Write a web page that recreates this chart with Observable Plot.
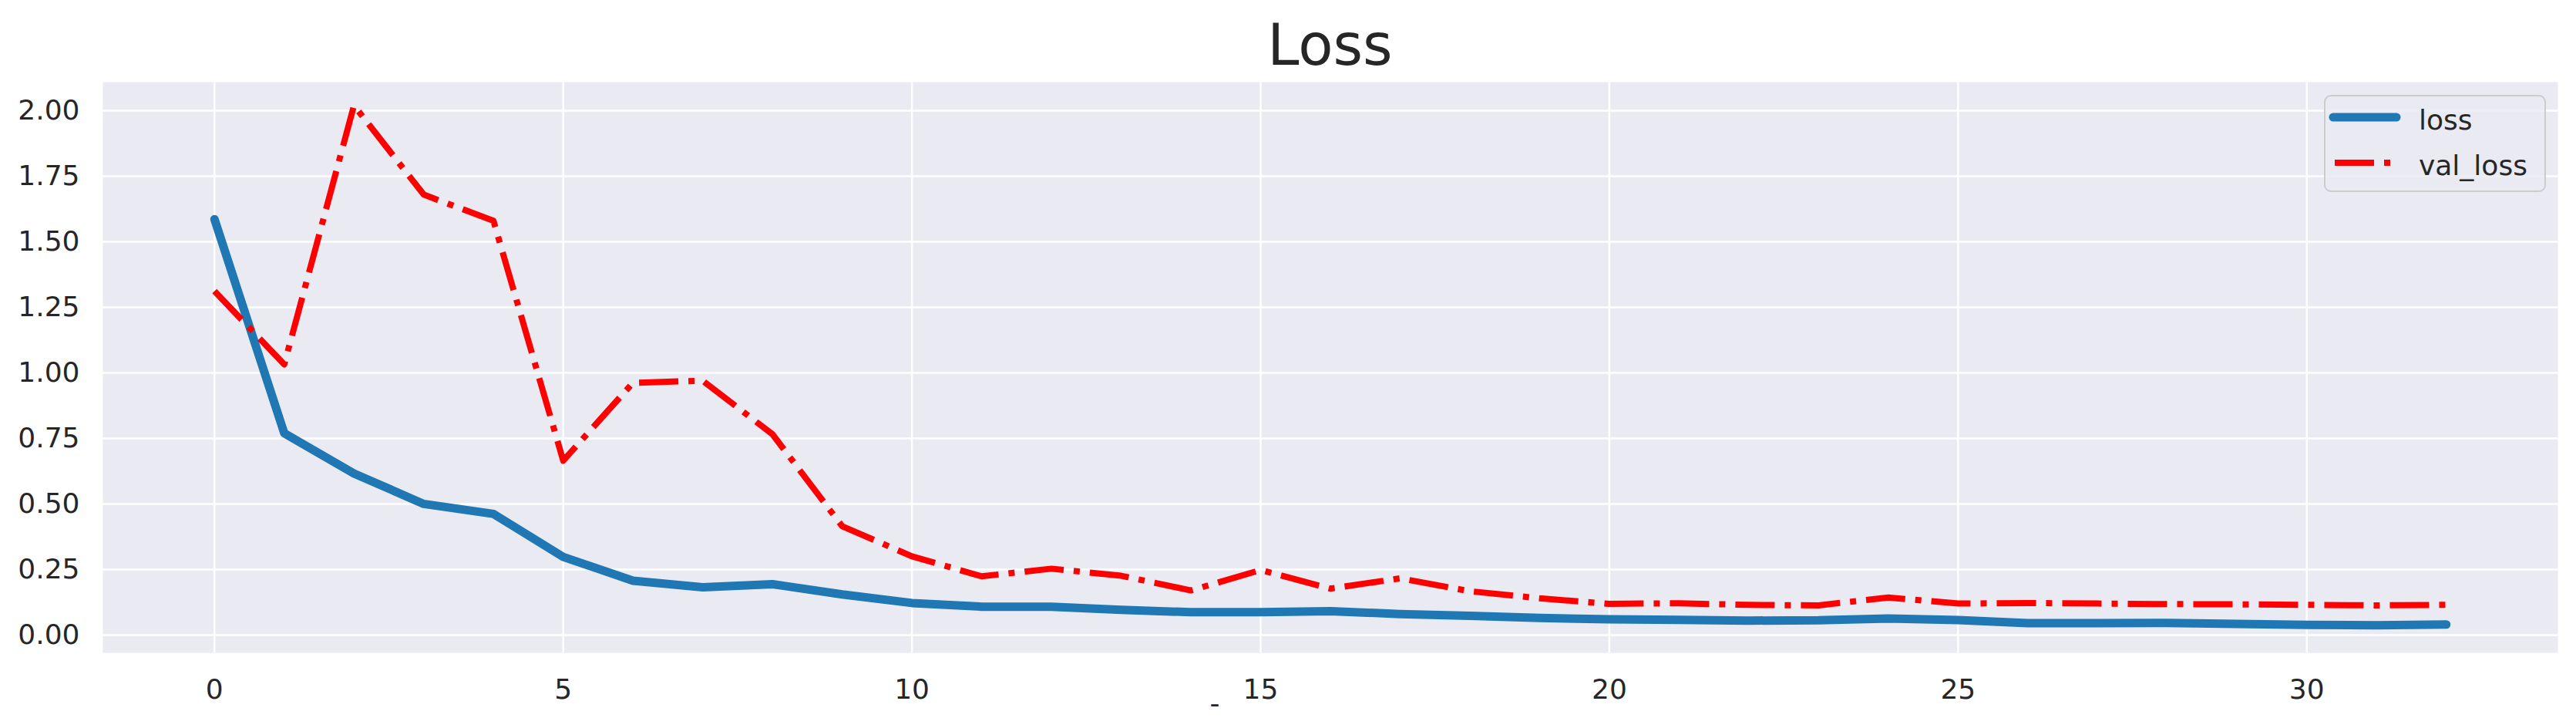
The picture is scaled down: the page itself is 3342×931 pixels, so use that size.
<!DOCTYPE html>
<html>
<head>
<meta charset="utf-8">
<script src="https://cdn.jsdelivr.net/npm/d3@7"></script>
<script src="https://cdn.jsdelivr.net/npm/@observablehq/plot@0.6"></script>
<style>
  html, body { margin: 0; padding: 0; background: #ffffff; }
  body { width: 3342px; height: 931px; overflow: hidden; position: relative; font-family: "DejaVu Sans", sans-serif; color: #262626; }
  #title { box-sizing: border-box; height: 100px; padding: 21px 24px 0 133px; line-height: 74px; font-size: 74px; text-align: center; color: #262626; }
  #legend { position: absolute; left: 3015px; top: 123px; width: 288px; height: 126px; box-sizing: border-box;
            background: rgba(234,234,242,0.85); border: 2.5px solid #cccccc; border-radius: 9px; }
  #legend svg { position: absolute; left: -2.5px; top: -2.5px; overflow: visible; }
</style>
</head>
<body>
<div id="title">Loss</div>
<div id="chart"></div>
<div id="legend"></div>
<script>
// ---- data ----
const epochs = [0, 1, 2, 3, 4, 5, 6, 7, 8, 9, 10, 11, 12, 13, 14, 15, 16, 17, 18, 19, 20, 21, 22, 23, 24, 25, 26, 27, 28, 29, 30, 31, 32];
const loss = [1.586, 0.770, 0.616, 0.500, 0.462, 0.298, 0.207, 0.182, 0.194, 0.155, 0.122, 0.108, 0.108, 0.096, 0.087, 0.087, 0.091, 0.080, 0.073, 0.065, 0.060, 0.058, 0.055, 0.056, 0.063, 0.057, 0.045, 0.045, 0.046, 0.042, 0.039, 0.037, 0.040];
const valLoss = [1.312, 1.032, 2.020, 1.680, 1.580, 0.665, 0.962, 0.970, 0.766, 0.415, 0.300, 0.224, 0.253, 0.226, 0.170, 0.248, 0.177, 0.216, 0.167, 0.140, 0.119, 0.121, 0.115, 0.113, 0.143, 0.120, 0.122, 0.120, 0.118, 0.117, 0.115, 0.113, 0.115];
const xTicks = [0, 5, 10, 15, 20, 25, 30];
const yTicks = [0, 0.25, 0.5, 0.75, 1.0, 1.25, 1.5, 1.75, 2.0];
const seriesNames = ["loss", "val_loss"];
const xLabel = "-";

const rows = epochs.map((e, i) => ({epoch: e, loss: loss[i], val: valLoss[i]}));

const chart = Plot.plot({
  width: 3342,
  height: 831,
  marginTop: 6,
  marginBottom: 85,
  marginLeft: 133,
  marginRight: 24,
  style: {background: "transparent", fontFamily: "DejaVu Sans, sans-serif", fontSize: "36px", color: "#262626", overflow: "visible"},
  x: {domain: [-1.6, 33.6]},
  y: {domain: [-0.068, 2.109]},
  marks: [
    Plot.frame({fill: "#eaeaf2", stroke: null}),
    Plot.gridX(xTicks, {stroke: "#ffffff", strokeOpacity: 1, strokeWidth: 2.5}),
    Plot.gridY(yTicks, {stroke: "#ffffff", strokeOpacity: 1, strokeWidth: 2.5}),
    Plot.axisX(xTicks, {tickSize: 0, tickPadding: 34, fontSize: 36, label: null}),
    Plot.axisY(yTicks, {tickSize: 0, tickPadding: 30, fontSize: 36, tickFormat: d3.format(".2f"), label: null}),
    Plot.text([xLabel], {text: d => d, frameAnchor: "bottom", dx: -150, dy: 66, fontSize: 36, lineAnchor: "middle", fill: "#262626"}),
    Plot.line(rows, {x: "epoch", y: "loss", stroke: "#1f77b4", strokeWidth: 11, strokeLinejoin: "round", strokeLinecap: "round"}),
    Plot.line(rows, {x: "epoch", y: "val", stroke: "#ff0000", strokeWidth: 8, strokeDasharray: "51,13,8,13", strokeLinejoin: "round", strokeLinecap: "butt"})
  ]
});
document.getElementById("chart").appendChild(chart);

// ---- legend ----
const lg = d3.select("#legend").append("svg").attr("width", 288).attr("height", 126);
lg.append("line").attr("x1", 12).attr("x2", 94).attr("y1", 29).attr("y2", 29)
  .attr("stroke", "#1f77b4").attr("stroke-width", 11).attr("stroke-linecap", "round");
lg.append("line").attr("x1", 14).attr("x2", 92).attr("y1", 88).attr("y2", 88)
  .attr("stroke", "#ff0000").attr("stroke-width", 8).attr("stroke-dasharray", "51,13,8,13").attr("stroke-linecap", "butt");
lg.selectAll("text").data(seriesNames).join("text")
  .attr("x", 123).attr("y", (d, i) => i === 0 ? 45 : 104)
  .attr("font-family", "DejaVu Sans, sans-serif").attr("font-size", 36).attr("fill", "#262626")
  .text(d => d);
</script>
</body>
</html>
